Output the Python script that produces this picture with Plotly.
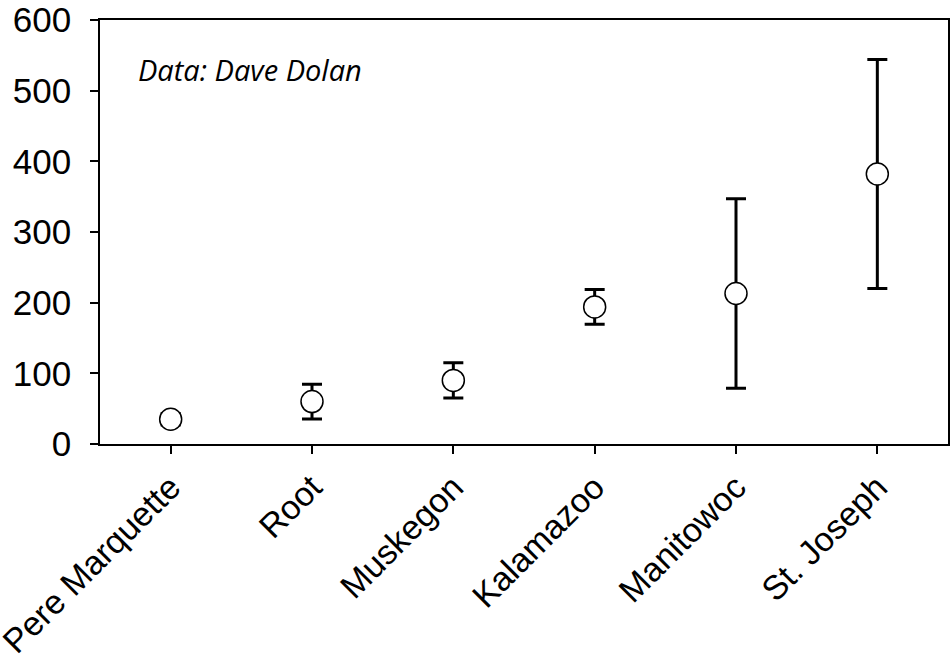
import plotly.graph_objects as go

categories = ["Pere Marquette", "Root", "Muskegon", "Kalamazoo", "Manitowoc", "St. Joseph"]
means = [35, 60, 90, 194, 213, 382]
errors = [8, 24.5, 25, 24.5, 134, 162]
y_ticks = [0, 100, 200, 300, 400, 500, 600]

fig = go.Figure()
fig.add_trace(go.Scatter(
    x=categories, y=means, mode="markers",
    marker=dict(symbol="circle", size=22, color="white", line=dict(color="black", width=1.5)),
    error_y=dict(type="data", array=errors, visible=True, color="black", thickness=3, width=10),
    showlegend=False,
))

fig.add_annotation(
    x=0.043, y=0.884, xref="paper", yref="paper", xanchor="left", yanchor="middle",
    text="<i>Data: Dave Dolan</i>", showarrow=False,
    font=dict(family="Open Sans", size=29, color="black"),
)

fig.update_layout(
    width=952, height=662,
    margin=dict(l=100, r=4, t=20, b=218),
    paper_bgcolor="white", plot_bgcolor="white",
    font=dict(family="Liberation Sans, Arial", color="black", size=30),
)
fig.update_xaxes(
    type="category", range=[-0.5, 5.5], automargin=False,
    showline=True, linecolor="black", linewidth=1.5, mirror=True,
    ticks="outside", ticklen=8, tickwidth=1.5, tickcolor="black",
    tickangle=-45, tickfont=dict(size=34), showgrid=False, zeroline=False,
)
fig.update_yaxes(
    range=[0, 600], tickvals=y_ticks, automargin=False,
    showline=True, linecolor="black", linewidth=1.5, mirror=True,
    ticks="outside", ticklen=8, tickwidth=1.5, tickcolor="black",
    tickfont=dict(size=35), showgrid=False, zeroline=False,
    ticklabelstandoff=12,
)

fig.write_html("out.html")
